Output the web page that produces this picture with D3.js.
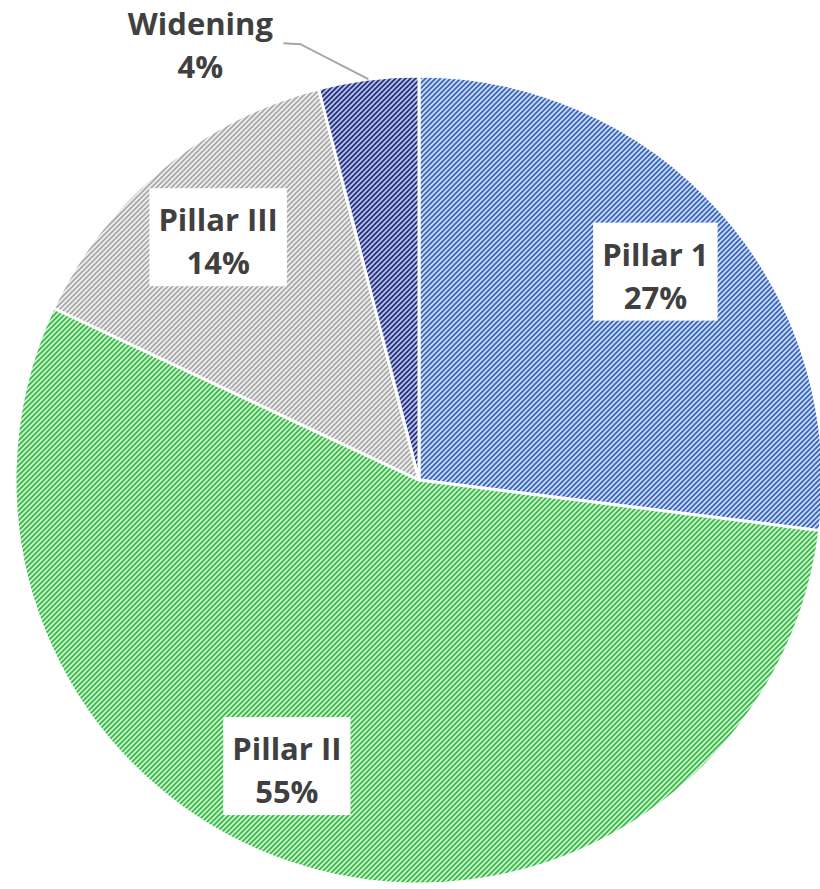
<!DOCTYPE html>
<html>
<head>
<meta charset="utf-8">
<script src="https://cdn.jsdelivr.net/npm/d3@7"></script>
<style>
  body { margin: 0; background: #fff; }
</style>
</head>
<body>
<div id="chart"></div>
<script>
// slice data
var categories = ["Pillar 1", "Pillar II", "Pillar III", "Widening"];
var values = [27, 55, 14, 4];
var bgColors = ["#cddbf4", "#cdf3cd", "#efefef", "#b6c0ea"];
var lineColors = ["#3563bd", "#35b847", "#a8a8a8", "#222e78"];

var width = 820, height = 889;
var cx = 419, cy = 480, radius = 404;
var labelRadius = radius * 0.78;
var textColor = "#404040";

var svg = d3.select("#chart").append("svg")
    .attr("width", width)
    .attr("height", height);

// hatch patterns, one per slice
var defs = svg.append("defs");
categories.forEach(function(c, i) {
    var p = defs.append("pattern")
        .attr("id", "hatch" + i)
        .attr("patternUnits", "userSpaceOnUse")
        .attr("width", 5)
        .attr("height", 5);
    p.append("rect").attr("width", 5).attr("height", 5).attr("fill", bgColors[i]);
    p.append("path")
        .attr("d", "M-1,1 L1,-1 M0,5 L5,0 M4,6 L6,4")
        .attr("stroke", lineColors[i])
        .attr("stroke-width", 1.7);
});

var data = categories.map(function(c, i) { return {name: c, value: values[i], idx: i}; });

var pie = d3.pie().sort(null).value(function(d) { return d.value; });
var arcs = pie(data);

var arc = d3.arc().innerRadius(0).outerRadius(radius);

var g = svg.append("g").attr("transform", "translate(" + cx + "," + cy + ")");

g.selectAll(".slice")
    .data(arcs)
    .enter()
    .append("path")
    .attr("class", "slice")
    .attr("d", arc)
    .attr("fill", function(d) { return "url(#hatch" + d.data.idx + ")"; })
    .attr("stroke", "#fff")
    .attr("stroke-width", 3)
    .attr("stroke-linejoin", "round");

// Excel "best fit" nudges the big slice label a bit
var labelShift = {"Pillar II": 0.15};
var lineGap = 43;
var fontSize = 31;

function labelPos(d, r) {
    var a = (d.startAngle + d.endAngle) / 2 + (labelShift[d.data.name] || 0);
    return [r * Math.sin(a), -r * Math.cos(a)];
}

var inside = arcs.filter(function(d) { return d.data.value >= 10; });
var outside = arcs.filter(function(d) { return d.data.value < 10; });

var lab = g.selectAll(".lab")
    .data(inside)
    .enter()
    .append("g")
    .attr("class", "lab")
    .attr("transform", function(d) { return "translate(" + labelPos(d, labelRadius) + ")"; });

lab.append("rect")
    .attr("fill", "#fff");

lab.append("text")
    .attr("text-anchor", "middle")
    .attr("font-family", "'Open Sans', sans-serif")
    .attr("font-weight", "bold")
    .attr("font-size", fontSize)
    .attr("fill", textColor)
    .selectAll("tspan")
    .data(function(d) { return [d.data.name, d.data.value + "%"]; })
    .enter()
    .append("tspan")
    .attr("x", 0)
    .attr("y", function(d, i) { return i == 0 ? -6 : -6 + lineGap; })
    .text(function(d) { return d; });

lab.each(function() {
    var grp = d3.select(this);
    var bb = grp.select("text").node().getBBox();
    var w = Math.max(bb.width + 18, 122);
    grp.select("rect")
        .attr("x", -w / 2)
        .attr("y", -49)
        .attr("width", w)
        .attr("height", 98);
});

// outside label with leader line
outside.forEach(function(d) {
    var p0 = labelPos(d, radius);
    var p1 = [p0[0] - 68, p0[1] - 35];
    var p2 = [p1[0] - 17, p1[1] - 1];
    g.append("polyline")
        .attr("points", [p0, p1, p2].map(function(p) { return p.join(","); }).join(" "))
        .attr("fill", "none")
        .attr("stroke", "#a6a6a6")
        .attr("stroke-width", 2);
    var t = g.append("text")
        .attr("text-anchor", "middle")
        .attr("font-family", "'Open Sans', sans-serif")
        .attr("font-weight", "bold")
        .attr("font-size", fontSize)
        .attr("fill", textColor);
    t.append("tspan").attr("x", p2[0] - 83).attr("y", p2[1] - 8).text(d.data.name);
    t.append("tspan").attr("x", p2[0] - 83).attr("y", p2[1] - 8 + lineGap).text(d.data.value + "%");
});
</script>
</body>
</html>
